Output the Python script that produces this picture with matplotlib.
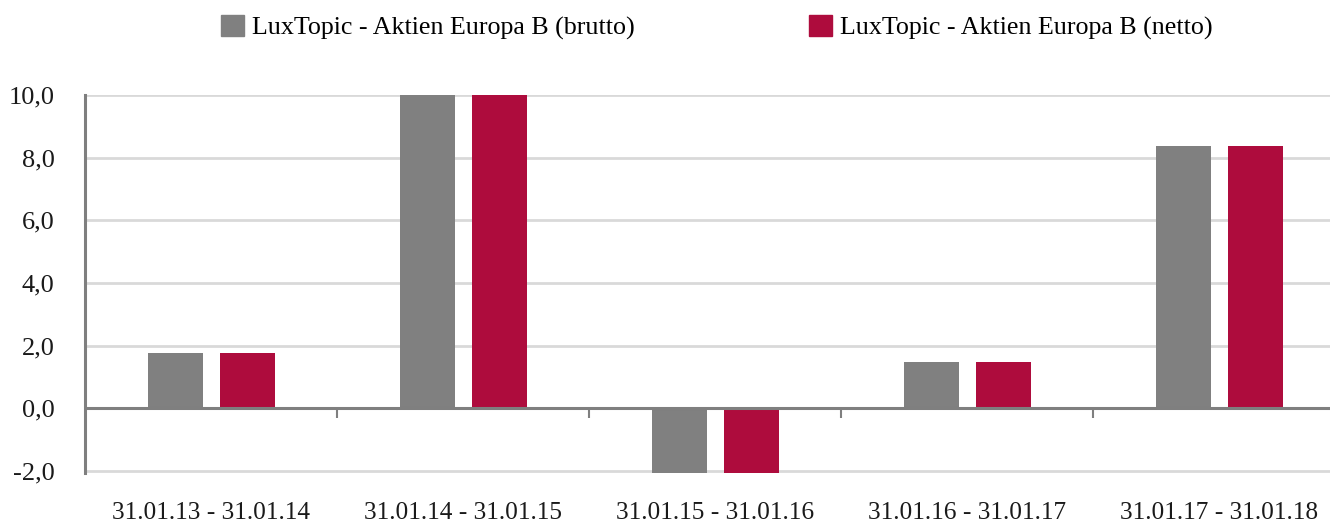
import matplotlib
matplotlib.use("Agg")
import matplotlib.pyplot as plt
import numpy as np
from matplotlib.patches import Patch

categories = ["31.01.13 - 31.01.14", "31.01.14 - 31.01.15", "31.01.15 - 31.01.16",
              "31.01.16 - 31.01.17", "31.01.17 - 31.01.18"]
brutto = [1.76, 10.0, -2.1, 1.47, 8.37]
netto = [1.76, 10.0, -2.1, 1.47, 8.37]
series_names = ["LuxTopic - Aktien Europa B (brutto)", "LuxTopic - Aktien Europa B (netto)"]
yticks = [-2, 0, 2, 4, 6, 8, 10]

plt.rcParams['font.family'] = ['Liberation Serif', 'DejaVu Serif']

fig = plt.figure(figsize=(13.3, 5.27), dpi=100)
ax = fig.add_axes([85/1330, 1-473/527, 1260/1330, (473-95)/527])

x = np.arange(len(categories))
w = 0.22
c_grey = "#808080"
c_red = "#AE0C3D"
ax.bar(x - 0.141, brutto, w, color=c_grey, zorder=3)
ax.bar(x + 0.145, netto, w, color=c_red, zorder=3)

ax.set_xlim(-0.5, len(categories) - 0.5)
ax.set_ylim(-2.06, 10)
ax.set_yticks(yticks)
ax.set_yticklabels([f"{v:.1f}".replace(".", ",") for v in yticks], fontsize=19, color="#1a1a1a")
ax.set_xticks(x)
ax.set_xticklabels(categories, fontsize=18.3, color="#1a1a1a")
ax.tick_params(axis='both', length=0)
ax.tick_params(axis='x', pad=21)
ax.tick_params(axis='y', pad=22)

for v in yticks:
    if v != 0:
        ax.axhline(v, color="#d9d9d9", lw=2, zorder=1)
ax.axhline(0, color="#7f7f7f", lw=2.2, zorder=4)
ax.vlines(x[:-1] + 0.5, -0.3, 0, color="#7f7f7f", lw=1.5, zorder=4)

for s in ["top", "right", "bottom"]:
    ax.spines[s].set_visible(False)
ax.spines["left"].set_color("#7f7f7f")
ax.spines["left"].set_linewidth(2.2)
ax.spines["left"].set_zorder(5)

handles = [Patch(color=c_grey), Patch(color=c_red)]
fig.legend(handles, series_names, loc="center", bbox_to_anchor=(0.539, 0.948), ncol=2,
           frameon=False, fontsize=18.7, handlelength=0.9, handleheight=0.9,
           handletextpad=0.3, columnspacing=6.7)

fig.savefig("out.png", dpi=100)
